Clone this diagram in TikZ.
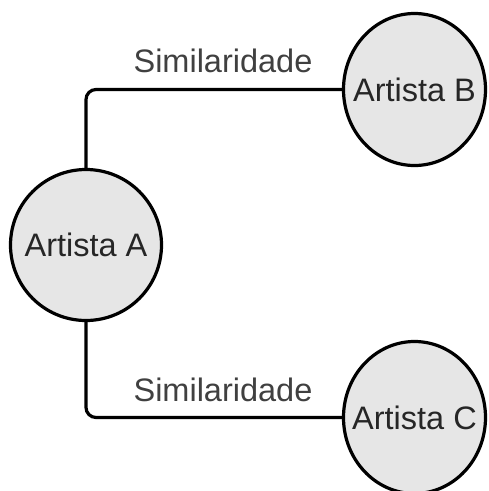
\documentclass[tikz,border=0pt]{standalone}
\usepackage{fontspec}
\setmainfont{Liberation Sans}
\usetikzlibrary{shapes.geometric}
\definecolor{nodefill}{HTML}{E6E6E6}
\definecolor{nodetext}{HTML}{262626}
\definecolor{labeltext}{HTML}{404040}
\newcommand{\zw}[1]{\makebox[0pt]{#1}}
\begin{document}
\begin{tikzpicture}[x=1pt,y=-1pt,
  artist/.style={ellipse,draw=black,line width=3.2pt,fill=nodefill,inner sep=0pt,
    text=nodetext,font=\fontsize{32.5}{36}\selectfont},
  link/.style={draw=black,line width=3.2pt,rounded corners=10pt},
  simlabel/.style={text=labeltext,font=\fontsize{32.5}{36}\selectfont,inner sep=0pt}]
\useasboundingbox (0,0) rectangle (489,491);
\node[artist,minimum width=151pt,minimum height=151pt] (A) at (86,245) {\zw{Artista A}};
\node[artist,minimum width=142pt,minimum height=152pt] (B) at (414.5,89.5) {\zw{Artista B}};
\node[artist,minimum width=142pt,minimum height=152pt] (C) at (414.5,417.5) {\zw{Artista C}};
\draw[link] (A.north) |- (B.west);
\draw[link] (A.south) |- (C.west);
\node[simlabel] (s1) at (223,61) {Similaridade};
\node[simlabel] (s2) at (223,390) {Similaridade};
\end{tikzpicture}
\end{document}
